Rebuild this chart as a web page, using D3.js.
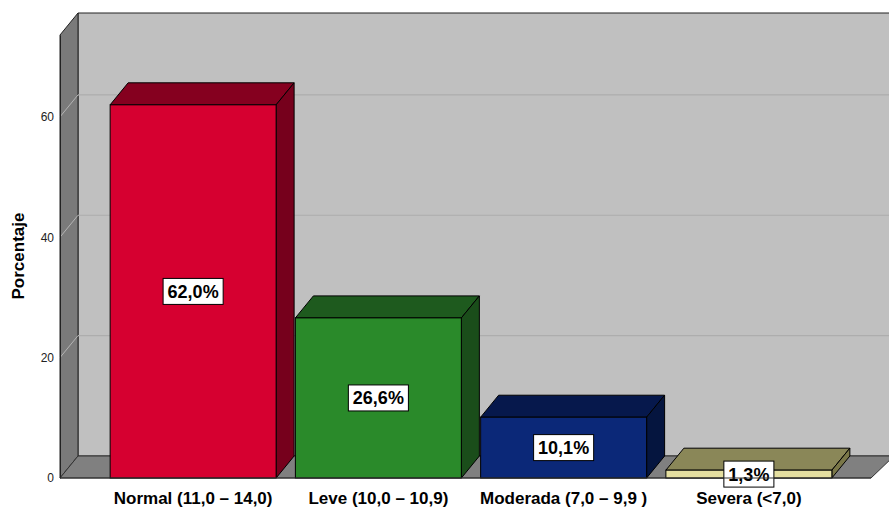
<!DOCTYPE html>
<html>
<head>
<meta charset="utf-8">
<script src="https://cdn.jsdelivr.net/npm/d3@7"></script>
<style>
  body { margin: 0; background: #fff; }
  text { font-family: Arial, "Liberation Sans", sans-serif; }
</style>
</head>
<body>
<svg width="889" height="507"></svg>
<script>
var categories = ["Normal (11,0 \u2013 14,0)", "Leve (10,0 \u2013 10,9)", "Moderada (7,0 \u2013 9,9 )", "Severa (<7,0)"];
var values = [62.0, 26.6, 10.1, 1.3];
var valueLabels = ["62,0%", "26,6%", "10,1%", "1,3%"];
var yTicks = [0, 20, 40, 60];

var frontColors = ["#d60030", "#2a8a2a", "#0b2878", "#e4dea0"];
var topColors = ["#85001f", "#1e5a1e", "#06184c", "#8a8758"];
var sideColors = ["#76001c", "#1a4d1a", "#05153f", "#7a7748"];

var svg = d3.select("svg"),
    W = +svg.attr("width"),
    dx = 18, dy = 22,   // depth offset of the 3d effect
    x0 = 60, x1 = 871, // front plot extent
    yBase = 478, yTop = 35;

var y = d3.scaleLinear().domain([0, 73.6]).range([yBase, yTop]);
var x = d3.scaleBand().domain(categories).range([100.5, 841.5])
    .paddingInner(0.104).paddingOuter(0.052);

function poly(pts) { return "M" + pts.map(function(p) { return p.join(","); }).join("L") + "Z"; }

// back wall
svg.append("path")
    .attr("d", poly([[x0 + dx, yTop - dy], [W + 5, yTop - dy], [W + 5, yBase - dy], [x0 + dx, yBase - dy]]))
    .attr("fill", "#c0c0c0").attr("stroke", "#222").attr("stroke-width", 1);

// left wall
svg.append("path")
    .attr("d", poly([[x0, yTop], [x0 + dx, yTop - dy], [x0 + dx, yBase - dy], [x0, yBase]]))
    .attr("fill", "#7a7a7a").attr("stroke", "#222").attr("stroke-width", 1);

// floor
svg.append("path")
    .attr("d", poly([[x0, yBase], [x0 + dx, yBase - dy], [x1 + dx + 5, yBase - dy], [x1, yBase]]))
    .attr("fill", "#808080").attr("stroke", "#333").attr("stroke-width", 1);

// gridlines
var grid = svg.append("g");
yTicks.filter(function(d) { return d > 0; }).forEach(function(t) {
  grid.append("line")
      .attr("x1", x0 + dx).attr("x2", W)
      .attr("y1", y(t) - dy).attr("y2", y(t) - dy)
      .attr("stroke", "#adadad").attr("stroke-width", 1.2);
  grid.append("line")
      .attr("x1", x0).attr("x2", x0 + dx)
      .attr("y1", y(t)).attr("y2", y(t) - dy)
      .attr("stroke", "#b4b4b4").attr("stroke-width", 1);
});

// axis
var yAxis = d3.axisLeft(y).tickValues(yTicks).tickSize(0).tickPadding(6);
var yAxisGroup = svg.append("g")
    .attr("transform", "translate(" + x0 + ",0)")
    .call(yAxis);
yAxisGroup.select(".domain").attr("stroke", "#222");
yAxisGroup.selectAll("text")
    .attr("font-size", 12).attr("fill", "#222")
    .attr("font-family", "Arial, 'Liberation Sans', sans-serif");

// bars
var bars = svg.selectAll(".bar")
    .data(values)
    .enter().append("g")
    .attr("class", "bar");

bars.each(function(d, i) {
  var g = d3.select(this),
      bx = x(categories[i]),
      bw = x.bandwidth(),
      by = y(d);
  g.append("path")
      .attr("d", poly([[bx, by], [bx + dx, by - dy], [bx + bw + dx, by - dy], [bx + bw, by]]))
      .attr("fill", topColors[i]).attr("stroke", "#000").attr("stroke-width", 1);
  g.append("path")
      .attr("d", poly([[bx + bw, by], [bx + bw + dx, by - dy], [bx + bw + dx, yBase - dy], [bx + bw, yBase]]))
      .attr("fill", sideColors[i]).attr("stroke", "#000").attr("stroke-width", 1);
  g.append("rect")
      .attr("x", bx).attr("y", by)
      .attr("width", bw).attr("height", yBase - by)
      .attr("fill", frontColors[i]).attr("stroke", "#000").attr("stroke-width", 1);
});

// axis base line over floor front edge
svg.append("line")
    .attr("x1", x0).attr("x2", x1)
    .attr("y1", yBase).attr("y2", yBase)
    .attr("stroke", "#333");

// value labels
bars.each(function(d, i) {
  var g = d3.select(this),
      cx = x(categories[i]) + x.bandwidth() / 2,
      cy = (y(d) + yBase) / 2;
  var t = g.append("text")
      .attr("x", cx).attr("y", cy)
      .attr("text-anchor", "middle").attr("dy", "0.36em")
      .attr("font-size", 18).attr("font-weight", "bold")
      .text(valueLabels[i]);
  var bb = t.node().getBBox();
  g.insert("rect", "text")
      .attr("x", bb.x - 4.5).attr("y", cy - 13)
      .attr("width", bb.width + 9).attr("height", 26)
      .attr("fill", "#fff").attr("stroke", "#000").attr("stroke-width", 1);
});

// category labels
svg.append("g").selectAll("text")
    .data(categories)
    .enter().append("text")
    .attr("x", function(d) { return x(d) + x.bandwidth() / 2; })
    .attr("y", 504)
    .attr("text-anchor", "middle")
    .attr("font-size", 17).attr("font-weight", "bold")
    .text(function(d) { return d; });

// y title
svg.append("text")
    .attr("transform", "translate(24,256) rotate(-90)")
    .attr("text-anchor", "middle")
    .attr("font-size", 17).attr("font-weight", "bold")
    .text("Porcentaje");
</script>
</body>
</html>
